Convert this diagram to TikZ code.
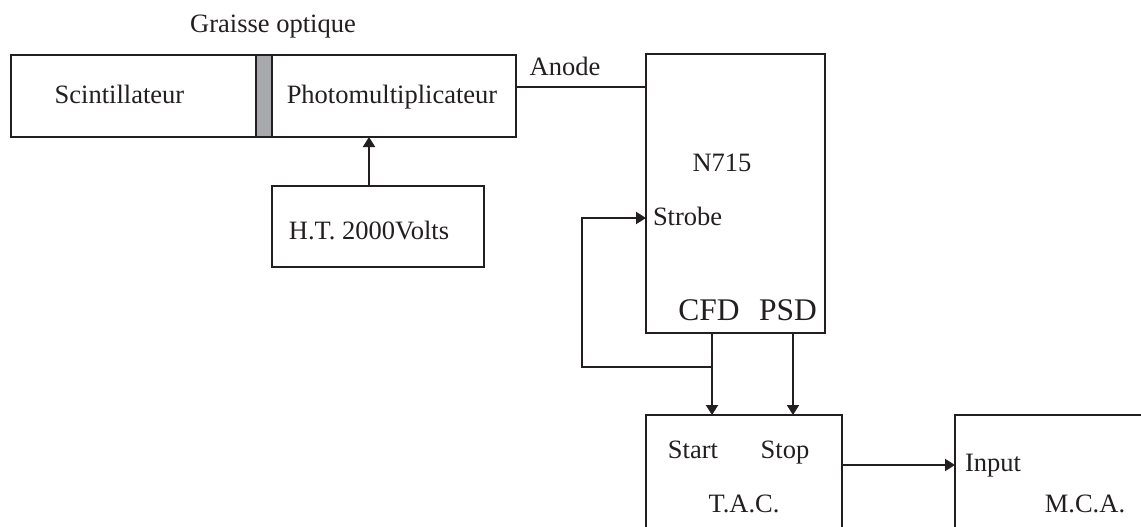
\documentclass[tikz,border=0pt]{standalone}
\usepackage{fontspec}
\setmainfont{Liberation Serif}
\usetikzlibrary{arrows.meta}
\definecolor{ink}{HTML}{231F20}
\definecolor{grease}{HTML}{A7A9AC}
\tikzset{
  box/.style={draw=ink, line width=2pt, inner sep=0pt, outer sep=0pt, rectangle},
  wire/.style={draw=ink, line width=2pt},
  arr/.style={wire, -{Triangle[length=10pt,width=12pt]}},
  lbl/.style={inner sep=0pt, outer sep=0pt, text=ink, font=\fontsize{26.5pt}{30pt}\selectfont},
  biglbl/.style={lbl, font=\fontsize{31.5pt}{36pt}\selectfont}
}
\begin{document}
\begin{tikzpicture}[x=1pt,y=-1pt]
\clip (0,0) rectangle (1141,527);
\fill[white] (0,0) rectangle (1141,527);
% boxes
\node[box, minimum width=245pt, minimum height=82pt] (scint) at (133.5,96) {};
\node[box, fill=grease, minimum width=16pt, minimum height=82pt] (grs) at (264,96) {};
\node[box, minimum width=244pt, minimum height=82pt] (pm) at (394,96) {};
\node[box, minimum width=212pt, minimum height=81pt] (ht) at (378,226.5) {};
\node[box, minimum width=179pt, minimum height=279pt] (n715) at (735.5,193.5) {};
\node[box, minimum width=196pt, minimum height=150pt] (tac) at (744,490) {};
\node[box, minimum width=245pt, minimum height=150pt] (mca) at (1077.5,490) {};
% labels
\node[lbl, anchor=base] (tgr) at (273,33) {Graisse optique};
\node[lbl, anchor=base] (tsc) at (119.5,103) {Scintillateur};
\node[lbl, anchor=base] (tpm) at (392,103) {Photomultiplicateur};
\node[lbl, anchor=base] (tht) at (369,239) {H.T. 2000Volts};
\node[lbl, anchor=base] (tan) at (565,75) {Anode};
\node[lbl, anchor=base] (tn) at (722,171) {N715};
\node[lbl, anchor=base west] (tstr) at (653,225) {Strobe};
\node[biglbl, anchor=base] (tcfd) at (709,320) {CFD};
\node[biglbl, anchor=base] (tpsd) at (788,320) {PSD};
\node[lbl, anchor=base] (tsta) at (693,458) {Start};
\node[lbl, anchor=base] (tsto) at (785,458) {Stop};
\node[lbl, anchor=base] (ttac) at (744,512) {T.A.C.};
\node[lbl, anchor=base west] (tin) at (965,471) {Input};
\node[lbl, anchor=base] (tmca) at (1085,512) {M.C.A.};
% connectors
\draw[arr] (369,0 |- ht.north) -- (369,0 |- pm.south);
\draw[wire] (pm.east |- 0,87) -- (n715.west |- 0,87);
\draw[arr] (712,0 |- n715.south) -- (712,0 |- tac.north);
\draw[arr] (793,0 |- n715.south) -- (793,0 |- tac.north);
\draw[arr] (712,367) -| (582,218) -- (n715.west |- 0,218);
\draw[arr] (tac.east |- 0,465) -- (mca.west |- 0,465);
\end{tikzpicture}
\end{document}
